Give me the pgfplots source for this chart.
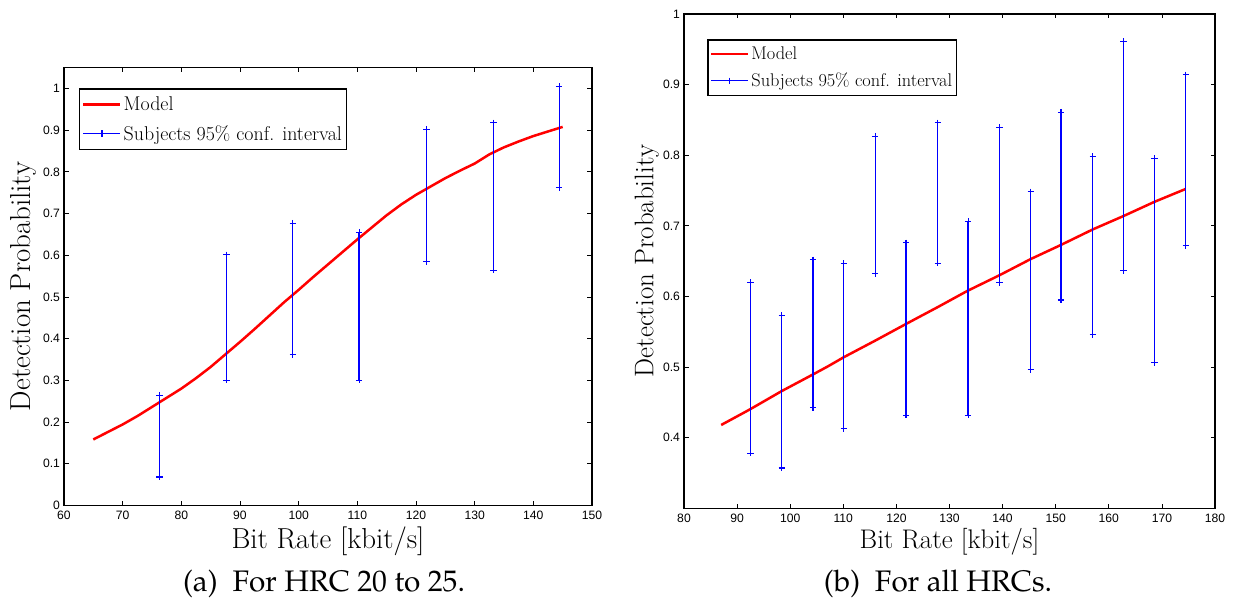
\documentclass[border=0pt]{standalone}
\usepackage[T1]{fontenc}
\usepackage{fontspec}
\usepackage{pgfplots}
\pgfplotsset{compat=1.18}
\newfontfamily\ticksans{Liberation Sans}
\newcommand\pal{\fontencoding{T1}\fontfamily{ppl}\selectfont}

\definecolor{mred}{RGB}{255,0,0}
\definecolor{mblue}{RGB}{0,0,255}

\pgfplotsset{
  matfig/.style={
    scale only axis,
    axis line style={line width=1.2bp},
    tick style={line width=0.8bp, black},
    tick align=inside,
    major tick length=4.5bp,
    /pgf/number format/assume math mode=true,
    tick label style={font=\ticksans\fontsize{12.2}{13}\selectfont},
    xticklabel style={yshift=-2.5bp},
    yticklabel style={xshift=-0.5bp},
    legend cell align=left,
    legend image code/.code={\draw[mark repeat=2,mark phase=2,##1] plot coordinates {(0bp,0bp) (18.5bp,0bp) (37bp,0bp)};},
  },
  model/.style={mred, line width=2.5bp, no markers},
  ci/.style={color=mblue, line width=1.2bp, mark=+, mark size=3.2bp,
    mark options={color=mblue, line width=1.1bp, solid}},
  cif/.style={ci, forget plot},
}

\begin{document}
\begin{tikzpicture}
\useasboundingbox (0bp,0bp) rectangle (1233bp,602bp);

% (a) HRC 20 to 25
\begin{axis}[matfig,
  at={(64bp,96.7bp)}, anchor=south west,
  width=528bp, height=438bp,
  xmin=60, xmax=150, ymin=0, ymax=1.051,
  xtick={60,70,...,150},
  ytick={0,0.1,0.2,0.3,0.4,0.5,0.6,0.7,0.8,0.9,1},
  xlabel={Bit Rate [kbit/s]},
  ylabel={Detection Probability},
  label style={font=\fontsize{29}{32}\selectfont},
  xlabel style={at={(axis description cs:0.5,-0.082)}, anchor=center},
  ylabel style={at={(axis description cs:-0.076,0.5)}, anchor=center},
  legend style={at={(0.0277,0.952)}, anchor=north west, draw=black, line width=1.2bp,
    font=\fontsize{20}{22}\selectfont, inner xsep=3bp, inner ysep=6bp, row sep=9bp},
]
\addplot[model] coordinates {
  (65,0.158) (67.5,0.176) (70,0.194) (72.5,0.214) (75,0.236) (77.5,0.258)
  (80,0.280) (82.5,0.305) (85,0.332) (87.5,0.362) (90,0.392) (92.5,0.423)
  (95,0.455) (97.5,0.487) (100,0.517) (102.5,0.548) (105,0.578) (107.5,0.608)
  (110,0.638) (112.5,0.667) (115,0.696) (117.5,0.722) (120,0.745) (122.5,0.765)
  (125,0.785) (127.5,0.803) (130,0.820) (132.5,0.842) (135,0.859) (137.5,0.873)
  (140,0.886) (142.5,0.897) (145,0.908)
};
\addlegendentry{Model}
\addplot[ci] coordinates {(76.3,0.068) (76.3,0.263)};
\addlegendentry{Subjects 95\% conf. interval}
\addplot[cif] coordinates {(87.7,0.300) (87.7,0.601)};
\addplot[cif] coordinates {(99.0,0.362) (99.0,0.677)};
\addplot[cif] coordinates {(110.3,0.300) (110.3,0.655)};
\addplot[cif] coordinates {(121.8,0.584) (121.8,0.902)};
\addplot[cif] coordinates {(133.2,0.564) (133.2,0.918)};
\addplot[cif] coordinates {(144.4,0.763) (144.4,1.005)};
\end{axis}

% (b) all HRCs
\begin{axis}[matfig,
  at={(684bp,93.7bp)}, anchor=south west,
  width=531bp, height=494.3bp,
  xmin=80, xmax=180, ymin=0.3, ymax=1,
  xtick={80,90,...,180},
  ytick={0.4,0.5,0.6,0.7,0.8,0.9,1},
  xlabel={Bit Rate [kbit/s]},
  ylabel={Detection Probability},
  label style={font=\fontsize{27}{30}\selectfont},
  xlabel style={at={(axis description cs:0.5,-0.067)}, anchor=center},
  ylabel style={at={(axis description cs:-0.07,0.5)}, anchor=center},
  legend style={at={(0.0439,0.9488)}, anchor=north west, draw=black, line width=1.2bp,
    font=\fontsize{18.4}{20}\selectfont, inner xsep=2bp, inner ysep=5bp, row sep=8bp},
]
\addplot[model] coordinates {
  (87.0,0.418) (92.4,0.440) (98.4,0.466) (104.4,0.490) (107.1,0.501)
  (110.1,0.514) (115.9,0.537) (121.8,0.561) (127.8,0.585) (133.4,0.608)
  (139.4,0.630) (145.3,0.653) (151.0,0.673) (157.0,0.695) (162.8,0.714)
  (168.6,0.734) (174.4,0.752)
};
\addlegendentry{Model}
\addplot[ci] coordinates {(92.5,0.378) (92.5,0.620)};
\addlegendentry{Subjects 95\% conf. interval}
\addplot[cif] coordinates {(98.4,0.357) (98.4,0.573)};
\addplot[cif] coordinates {(104.3,0.443) (104.3,0.652)};
\addplot[cif] coordinates {(110.1,0.413) (110.1,0.647)};
\addplot[cif] coordinates {(116.0,0.632) (116.0,0.827)};
\addplot[cif] coordinates {(121.8,0.432) (121.8,0.676)};
\addplot[cif] coordinates {(127.8,0.647) (127.8,0.846)};
\addplot[cif] coordinates {(133.5,0.432) (133.5,0.706)};
\addplot[cif] coordinates {(139.4,0.620) (139.4,0.839)};
\addplot[cif] coordinates {(145.3,0.496) (145.3,0.748)};
\addplot[cif] coordinates {(151.0,0.595) (151.0,0.861)};
\addplot[cif] coordinates {(157.0,0.546) (157.0,0.798)};
\addplot[cif] coordinates {(162.8,0.637) (162.8,0.961)};
\addplot[cif] coordinates {(168.6,0.506) (168.6,0.796)};
\addplot[cif] coordinates {(174.5,0.672) (174.5,0.914)};
\end{axis}

\node[font=\pal\fontsize{29.8}{32}\selectfont] at (324bp,18bp) {(a)\enspace For HRC 20 to 25.};
\node[font=\pal\fontsize{29.8}{32}\selectfont] at (938bp,18bp) {(b)\enspace For all HRCs.};
\end{tikzpicture}
\end{document}
